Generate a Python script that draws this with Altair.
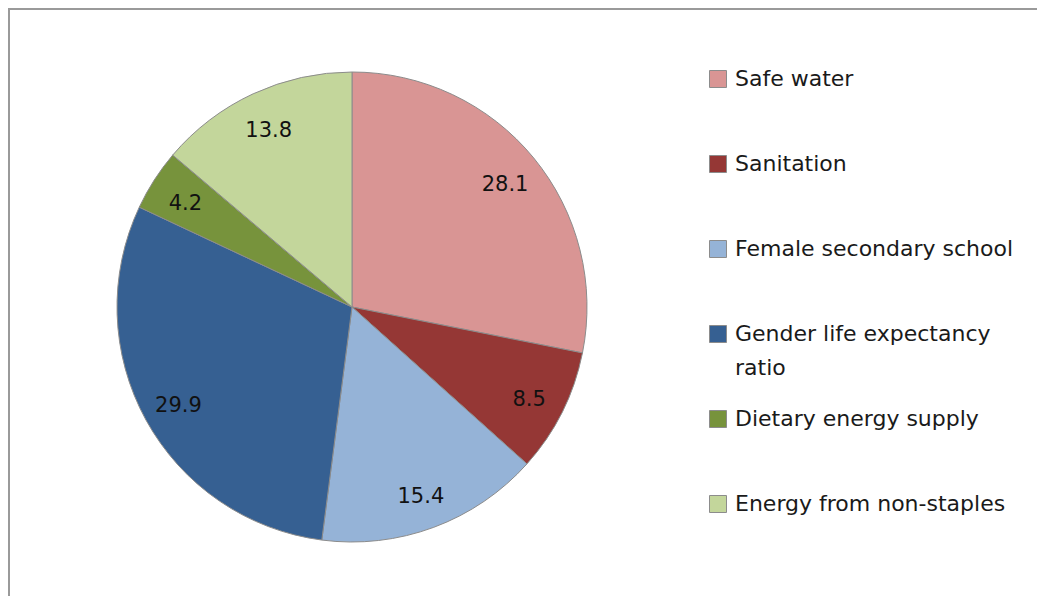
import altair as alt
import pandas as pd

categories = ["Safe water", "Sanitation", "Female secondary school",
              "Gender life expectancy ratio", "Dietary energy supply",
              "Energy from non-staples"]
values = [28.1, 8.5, 15.4, 29.9, 4.2, 13.8]
colors = ["#D99594", "#953735", "#95B3D7", "#366092", "#77933C", "#C3D69B"]

df = pd.DataFrame({"category": categories, "value": values,
                   "idx": list(range(len(categories)))})

W, H = 1029, 588
CX, CY, R = 344, 299, 235
FONT = "DejaVu Sans"

base = alt.Chart(df).encode(
    theta=alt.Theta("value:Q", stack=True),
    order=alt.Order("idx:Q"),
)

pie = base.mark_arc(outerRadius=R, stroke="#8c8c8c", strokeWidth=1).encode(
    x=alt.value(CX), y=alt.value(CY),
    color=alt.Color(
        "category:N",
        scale=alt.Scale(domain=categories, range=colors),
        legend=alt.Legend(
            title=None, orient="none", legendX=699, legendY=60,
            symbolType="square", symbolSize=289, symbolStrokeColor="#8c8c8c",
            symbolStrokeWidth=1, symbolOpacity=1,
            labelFont=FONT, labelFontSize=22, labelColor="#1a1a1a",
            labelLimit=400, rowPadding=29, labelOffset=6, padding=0,
            gridAlign="all",
            labelExpr="datum.label == 'Gender life expectancy ratio' ? ['Gender life expectancy', 'ratio'] : datum.label",
        ),
    ),
)

labels = base.mark_text(radius=198, dy=4, font=FONT, fontSize=21, color="#111111").encode(
    x=alt.value(CX), y=alt.value(CY),
    text=alt.Text("value:Q", format=".1f"),
)

frame_left = alt.Chart(df).mark_rule(color="#9a9a9a", strokeWidth=2).encode(
    x=alt.value(1), y=alt.value(0), y2=alt.value(H))
frame_top = alt.Chart(df).mark_rule(color="#9a9a9a", strokeWidth=2).encode(
    x=alt.value(0), x2=alt.value(W), y=alt.value(1))

chart = alt.layer(frame_left, frame_top, pie, labels).properties(
    width=W, height=H, padding=0,
    autosize=alt.AutoSizeParams(type="none"),
).configure_view(stroke=None).configure(
    style={"guide-label": {"lineHeight": 34}}
)

chart.save("out.html", embed_options={"renderer": "svg", "actions": False})
